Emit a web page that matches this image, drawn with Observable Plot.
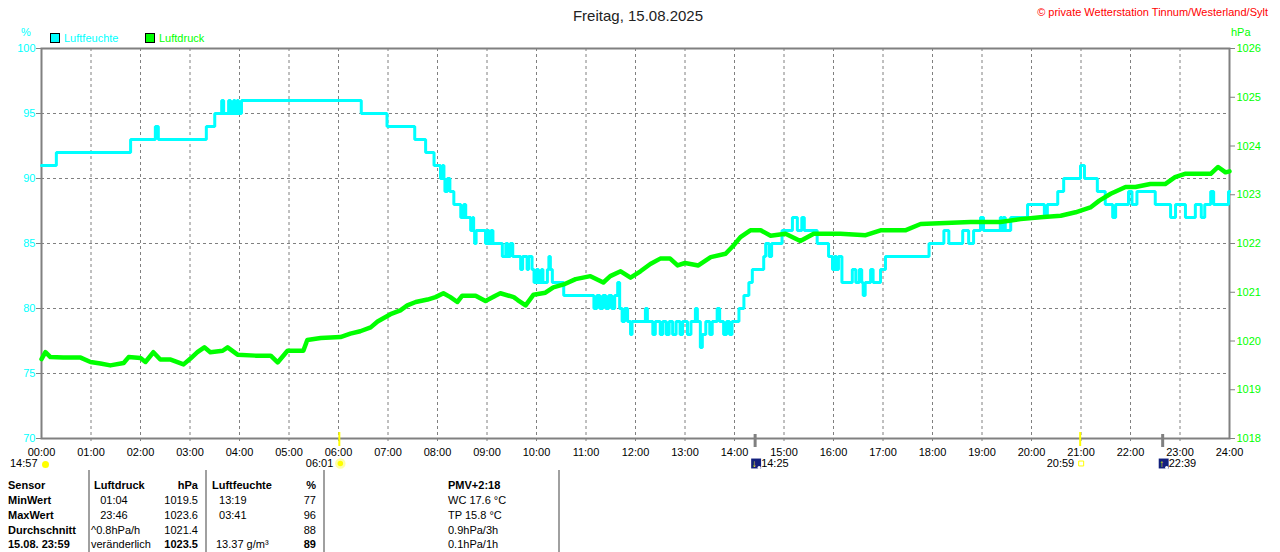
<!DOCTYPE html>
<html><head><meta charset="utf-8">
<script src="https://cdn.jsdelivr.net/npm/d3@7"></script>
<script src="https://cdn.jsdelivr.net/npm/@observablehq/plot@0.6"></script>
<style>
html,body{margin:0;padding:0;background:#fff;overflow:hidden;}
#root{position:relative;width:1280px;height:552px;overflow:hidden;font-family:"Liberation Sans",Arial,sans-serif;font-size:11px;}
#root svg{position:absolute;left:0;top:0;}
.t{position:absolute;white-space:pre;line-height:16px;}
</style></head><body><div id="root"></div>
<script>
// ---------- data ----------
const hourTicks = d3.range(0, 25);
const humTicks = [70, 75, 80, 85, 90, 95, 100];
const humGrid = [75, 80, 85, 90, 95];
const presTicks = [1018, 1019, 1020, 1021, 1022, 1023, 1024, 1025, 1026];

// Luftfeuchte (%), step series: hour of day, value
const humHours = [0.00,0.30,1.80,2.30,2.36,3.33,3.50,3.64,3.68,3.78,3.82,3.88,3.91,3.95,3.98,4.04,6.46,6.98,7.54,7.76,7.93,8.06,8.10,8.13,8.15,8.20,8.25,8.33,8.47,8.53,8.57,8.67,8.71,8.73,8.75,8.78,8.97,9.00,9.04,9.08,9.12,9.31,9.38,9.42,9.47,9.52,9.68,9.72,9.81,9.84,9.91,9.95,10.00,10.04,10.10,10.13,10.22,10.25,10.28,10.32,10.55,11.16,11.22,11.28,11.34,11.40,11.46,11.52,11.58,11.64,11.68,11.73,11.78,11.84,11.90,11.93,12.20,12.24,12.35,12.40,12.50,12.55,12.62,12.68,12.75,12.82,12.90,12.95,13.05,13.12,13.21,13.25,13.31,13.35,13.42,13.50,13.55,13.65,13.70,13.78,13.84,13.90,13.95,14.09,14.19,14.29,14.36,14.59,14.63,14.70,14.75,14.96,15.17,15.27,15.36,15.41,15.67,15.90,15.98,16.02,16.06,16.10,16.17,16.38,16.45,16.52,16.57,16.60,16.64,16.75,16.80,16.95,17.05,17.93,18.23,18.33,18.61,18.73,18.83,18.97,19.03,19.37,19.40,19.43,19.47,19.58,19.92,20.26,20.32,20.53,20.65,20.99,21.07,21.33,21.49,21.64,21.70,21.96,22.03,22.13,22.50,22.81,22.91,23.11,23.31,23.43,23.50,23.62,23.68,23.98,24.00];
const humValues = [91,92,93,94,93,94,95,96,95,96,95,96,95,96,95,96,95,94,93,92,91,90,91,90,89,90,89,88,87,88,87,86,87,86,85,86,85,86,85,86,85,84,85,84,85,84,83,84,83,84,83,82,83,82,83,82,83,84,83,82,81,80,81,80,81,80,81,80,81,82,80,79,80,79,78,79,80,79,78,79,78,79,78,79,78,79,78,79,78,79,80,79,77,78,79,78,79,80,79,78,79,78,79,80,81,82,83,84,85,84,85,86,87,86,87,86,85,84,83,84,83,84,82,83,82,83,82,81,82,83,82,83,84,85,86,85,86,85,86,87,86,87,86,87,86,87,88,87,88,89,90,91,90,89,88,87,88,89,88,89,88,87,88,87,88,87,88,89,88,89,89];

// Luftdruck (hPa): hour of day, value
const presHours = [0.00,0.08,0.18,0.44,0.79,0.99,1.19,1.39,1.66,1.76,2.00,2.10,2.26,2.40,2.61,2.87,3.01,3.15,3.29,3.41,3.66,3.76,3.96,4.32,4.63,4.77,4.97,5.29,5.37,5.64,6.04,6.24,6.44,6.65,6.79,7.05,7.25,7.39,7.56,7.80,7.96,8.12,8.26,8.40,8.50,8.77,8.97,9.17,9.27,9.54,9.62,9.78,9.94,10.18,10.34,10.55,10.79,11.09,11.35,11.49,11.70,11.90,12.10,12.30,12.50,12.70,12.85,13.00,13.27,13.52,13.82,13.98,14.12,14.32,14.53,14.73,15.03,15.33,15.60,16.14,16.65,16.95,17.45,17.76,18.26,18.77,19.37,19.78,20.18,20.59,20.89,21.19,21.37,21.60,21.90,22.10,22.40,22.70,22.90,23.10,23.62,23.77,23.92,24.00];
const presValues = [1019.63,1019.77,1019.67,1019.66,1019.66,1019.57,1019.54,1019.50,1019.55,1019.67,1019.65,1019.57,1019.77,1019.62,1019.62,1019.52,1019.64,1019.77,1019.87,1019.77,1019.80,1019.87,1019.72,1019.70,1019.70,1019.56,1019.80,1019.80,1020.02,1020.06,1020.08,1020.15,1020.20,1020.28,1020.40,1020.55,1020.63,1020.73,1020.80,1020.85,1020.90,1020.98,1020.90,1020.80,1020.93,1020.93,1020.82,1020.93,1020.98,1020.90,1020.84,1020.73,1020.95,1020.99,1021.10,1021.16,1021.27,1021.33,1021.20,1021.33,1021.43,1021.30,1021.43,1021.58,1021.69,1021.69,1021.55,1021.60,1021.55,1021.72,1021.79,1021.96,1022.13,1022.27,1022.27,1022.16,1022.20,1022.05,1022.20,1022.20,1022.17,1022.27,1022.27,1022.40,1022.42,1022.44,1022.44,1022.50,1022.54,1022.57,1022.64,1022.74,1022.88,1023.02,1023.16,1023.16,1023.22,1023.22,1023.36,1023.43,1023.43,1023.57,1023.46,1023.48];

// astronomical markers below the time axis
const sunEvents = [{t: "06:01", kind: "rise"}, {t: "20:59", kind: "set"}];
const moonEvents = [{t: "14:25", dir: "down"}, {t: "22:39", dir: "up"}];
const startLabel = [{t: "14:57"}];

// statistics table
const tableRows = [
  {label: "Sensor", pTime: "Luftdruck", pVal: "hPa", hTime: "Luftfeuchte", hVal: "%", extra: "PMV+2:18", head: true},
  {label: "MinWert", pTime: "   01:04", pVal: "1019.5", hTime: " 13:19", hVal: "77", extra: "WC 17.6 °C"},
  {label: "MaxWert", pTime: "   23:46", pVal: "1023.6", hTime: " 03:41", hVal: "96", extra: "TP 15.8 °C"},
  {label: "Durchschnitt", pTime: "^0.8hPa/h", pVal: "1021.4", hTime: "", hVal: "88", extra: "0.9hPa/3h"},
  {label: "15.08. 23:59", pTime: "veränderlich", pVal: "1023.5", hTime: "13.37 g/m³", hVal: "89", extra: "0.1hPa/1h", boldVals: true}
];
const rowCenters = [485, 500, 515, 530, 544];

// ---------- helpers ----------
const toHour = s => { const [h, m] = s.split(":").map(Number); return h + m / 60; };
const presToY = p => 70 + (p - 1018) * 30 / 8;
const yToPres = y => 1018 + (y - 70) * 8 / 30;
const below = px => 70 - px * 30 / 390;   // pixels below the time axis, in y units

const hum = humHours.map((h, i) => ({h, v: humValues[i]}));
const pres = presHours.map((h, i) => ({h, p: presValues[i]}));
sunEvents.forEach(d => d.h = toHour(d.t));
moonEvents.forEach(d => d.h = toHour(d.t));
startLabel.forEach(d => d.h = 0);

const GRAY = "#808080", CYAN = "#00ffff", GREEN = "#00ff00", YEL = "#ffff00";

const chart = Plot.plot({
  width: 1280, height: 552,
  marginTop: 48, marginBottom: 114, marginLeft: 41, marginRight: 51,
  x: {domain: [0, 24]},
  y: {domain: [70, 100]},
  style: {fontFamily: '"Liberation Sans", Arial, sans-serif', fontSize: "11px", background: "transparent", overflow: "visible"},
  marks: [
    Plot.ruleX(hourTicks.slice(1, 24), {y1: 100, y2: below(6), stroke: GRAY, strokeDasharray: "3,3"}),
    Plot.ruleY(humGrid, {x1: 0, x2: 24, stroke: GRAY, strokeDasharray: "3,3"}),
    Plot.frame({stroke: GRAY, strokeWidth: 2}),
    Plot.line(hum, {x: "h", y: "v", curve: "step-after", stroke: CYAN, strokeWidth: 3, strokeLinejoin: "miter"}),
    Plot.line(pres, {x: "h", y: d => presToY(d.p), stroke: GREEN, strokeWidth: 4.5}),
    Plot.axisY(humTicks, {anchor: "left", tickSize: 5, tickPadding: 1, stroke: GRAY, fill: CYAN, label: null}),
    Plot.axisY(presTicks.map(presToY), {anchor: "right", tickSize: 5, tickPadding: 2, stroke: GRAY, fill: GREEN, label: null,
      tickFormat: d => String(Math.round(yToPres(d)))}),
    Plot.axisX(hourTicks, {tickSize: 0, tickPadding: 10, fill: "#000", label: null,
      tickFormat: d => String(d).padStart(2, "0") + ":00"}),
    // sunrise / sunset ticks
    Plot.ruleX(sunEvents, {x: "h", y1: 70 + 6 * 30 / 390, y2: below(8), stroke: YEL, strokeWidth: 2}),
    // moon ticks
    Plot.ruleX(moonEvents, {x: "h", y1: 70 + 4 * 30 / 390, y2: below(9), stroke: GRAY, strokeWidth: 3}),
    // labels
    Plot.text(sunEvents, {x: "h", y: below(25), text: "t", textAnchor: "end", dx: -6, fill: "#000"}),
    Plot.dot(sunEvents.filter(d => d.kind === "rise"), {x: "h", y: below(25), dx: 1, r: 4, fill: YEL, stroke: "#ffffa8", strokeWidth: 2.5}),
    Plot.dot(sunEvents.filter(d => d.kind === "set"), {x: "h", y: below(25), dx: 1, r: 2.8, symbol: "square", fill: "none", stroke: YEL, strokeWidth: 1}),
    Plot.dot(moonEvents, {x: "h", y: below(25), dx: 1, r: 5.6, symbol: "square", fill: "#12207e"}),
    Plot.text(moonEvents, {x: "h", y: below(25), dx: -1, text: d => d.dir === "down" ? "↓" : "↑", fill: YEL, fontWeight: "bold", fontSize: 10}),
    Plot.dot(moonEvents, {x: "h", y: below(29), dx: 4, r: 1.6, fill: "#ffffff"}),
    Plot.text(moonEvents, {x: "h", y: below(25), text: "t", textAnchor: "start", dx: 6, fill: "#000"}),
    Plot.text(startLabel, {x: "h", y: below(25), text: "t", textAnchor: "end", dx: -4, fill: "#000"}),
    Plot.dot(startLabel, {x: "h", y: below(26), dx: 4, r: 3.5, fill: YEL})
  ]
});

const root = document.getElementById("root");
root.appendChild(chart);

function put(x, yc, s, o = {}) {
  const d = document.createElement("div");
  d.className = "t";
  d.textContent = s;
  d.style.top = (yc - 8) + "px";
  d.style.color = o.color || "#000";
  d.style.fontSize = (o.size || 11) + "px";
  if (o.bold) d.style.fontWeight = "bold";
  if (o.anchor === "end") d.style.right = (1280 - x) + "px";
  else if (o.anchor === "middle") { d.style.left = x + "px"; d.style.transform = "translateX(-50%)"; }
  else d.style.left = x + "px";
  root.appendChild(d);
  return d;
}
function box(x, y, w, h, css) {
  const d = document.createElement("div");
  d.style.position = "absolute";
  d.style.left = x + "px"; d.style.top = y + "px";
  d.style.width = w + "px"; d.style.height = h + "px";
  Object.assign(d.style, css);
  root.appendChild(d);
}

// title, credit, units, legend
put(638, 16, "Freitag, 15.08.2025", {anchor: "middle", size: 15, color: "#222"});
put(1268, 12, "© private Wetterstation Tinnum/Westerland/Sylt", {anchor: "end", color: "#ff0000"});
put(26, 32, "%", {anchor: "middle", color: CYAN});
put(1231, 32, "hPa", {color: GREEN});
box(50, 33, 8, 8, {background: CYAN, border: "1px solid #000"});
put(64, 38, "Luftfeuchte", {color: CYAN});
box(145, 33, 8, 8, {background: GREEN, border: "1px solid #000"});
put(159, 38, "Luftdruck", {color: GREEN});

// table separators
[88, 205, 323, 558].forEach(x => box(x, 470, 2, 82, {background: "#a0a0a0"}));
// table rows
tableRows.forEach((r, i) => {
  const y = rowCenters[i];
  const hb = !!r.head;
  put(8, y, r.label, {bold: true});
  put(hb ? 94 : 91, y, r.pTime, {bold: hb});
  put(198, y, r.pVal, {anchor: "end", bold: hb || r.boldVals});
  put(hb ? 212 : 216, y, r.hTime, {bold: hb});
  put(316, y, r.hVal, {anchor: "end", bold: hb || r.boldVals});
  put(448, y, r.extra, {bold: hb});
});
</script></body></html>
